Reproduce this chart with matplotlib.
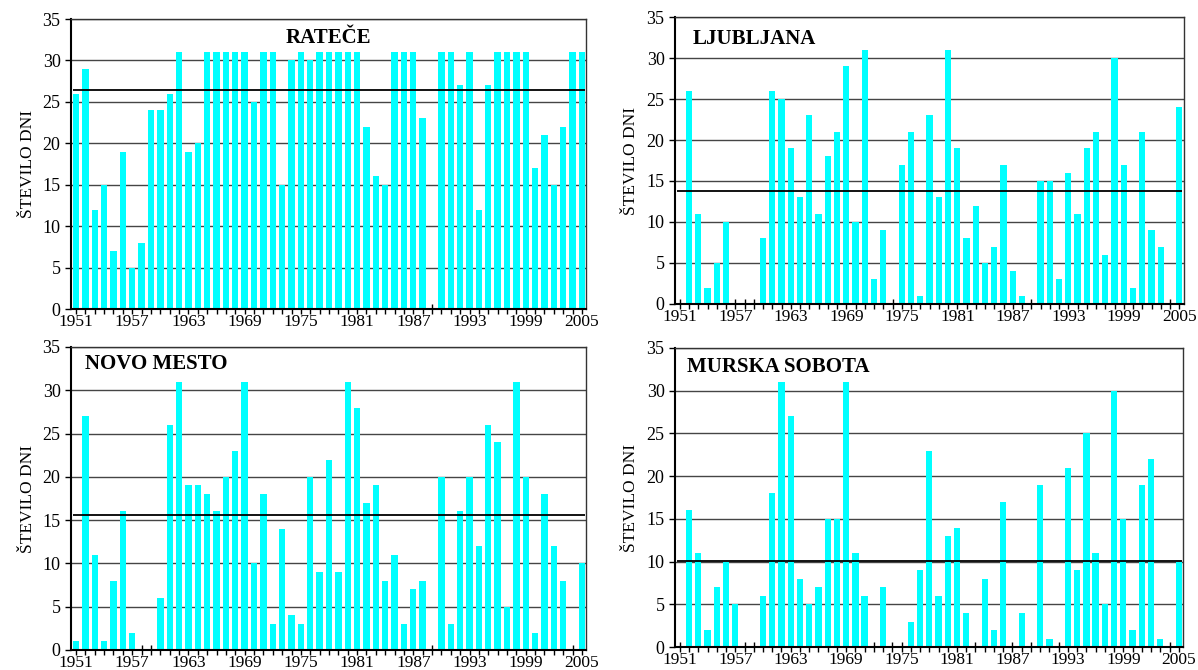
import numpy as np
import matplotlib
matplotlib.use('Agg')
import matplotlib.pyplot as plt

plt.rcParams['font.family'] = ['Liberation Serif', 'DejaVu Serif']

years = np.arange(1951, 2006)

ratece = [26, 29, 12, 15, 7, 19, 5, 8, 24, 24, 26, 31, 19, 20, 31, 31, 31, 31, 31, 25,
          31, 31, 15, 30, 31, 30, 31, 31, 31, 31, 31, 22, 16, 15, 31, 31, 31, 23, 0, 31,
          31, 27, 31, 12, 27, 31, 31, 31, 31, 17, 21, 15, 22, 31, 31]
ljubljana = [0, 26, 11, 2, 5, 10, 0, 0, 0, 8, 26, 25, 19, 13, 23, 11, 18, 21, 29, 10,
             31, 3, 9, 0, 17, 21, 1, 23, 13, 31, 19, 8, 12, 5, 7, 17, 4, 1, 0, 15,
             15, 3, 16, 11, 19, 21, 6, 30, 17, 2, 21, 9, 7, 0, 24]
novo_mesto = [1, 27, 11, 1, 8, 16, 2, 0, 0, 6, 26, 31, 19, 19, 18, 16, 20, 23, 31, 10,
              18, 3, 14, 4, 3, 20, 9, 22, 9, 31, 28, 17, 19, 8, 11, 3, 7, 8, 0, 20,
              3, 16, 20, 12, 26, 24, 5, 31, 20, 2, 18, 12, 8, 0, 10]
murska_sobota = [0, 16, 11, 2, 7, 10, 5, 0, 0, 6, 18, 31, 27, 8, 5, 7, 15, 15, 31, 11,
                 6, 0, 7, 0, 0, 3, 9, 23, 6, 13, 14, 4, 0, 8, 2, 17, 0, 4, 0, 19,
                 1, 0, 21, 9, 25, 11, 5, 30, 15, 2, 19, 22, 1, 0, 10]

stations = ['RATEČE', 'LJUBLJANA', 'NOVO MESTO', 'MURSKA SOBOTA']
means = [26.4, 13.8, 15.6, 10.1]
series = [ratece, ljubljana, novo_mesto, murska_sobota]

# axes boxes in figure fractions: left, bottom, width, height
boxes = [[0.0593, 0.5388, 0.4300, 0.4328],
         [0.5634, 0.5463, 0.4245, 0.4283],
         [0.0593, 0.0300, 0.4300, 0.4521],
         [0.5634, 0.0340, 0.4240, 0.4466]]
title_pos = [(0.5, 0.935, 'center'), (0.035, 0.923, 'left'),
             (0.027, 0.945, 'left'), (0.023, 0.935, 'left')]

fig = plt.figure(figsize=(11.98, 6.70), dpi=100)

for i in range(4):
    ax = fig.add_axes(boxes[i])
    ax.set_axisbelow(True)
    ax.bar(years, series[i], width=0.68, color='#00FFFF', zorder=2)
    ax.hlines(means[i], years[0] - 0.3, years[-1] + 0.3, color='black', lw=1.3, zorder=3)
    ax.set_xlim(1950.47, 2005.45)
    ax.set_ylim(0, 35)
    ax.set_yticks(np.arange(0, 36, 5))
    ax.grid(axis='y', color='#454545', lw=1)
    ax.set_xticks(years[::6])
    ax.set_xticks(years, minor=True)
    ax.tick_params(axis='x', which='both', direction='inout', length=7, width=1, labelsize=12.5, pad=0)
    ax.tick_params(axis='y', direction='out', length=4, width=1, labelsize=13)
    for s in ax.spines.values():
        s.set_color('#333333')
        s.set_linewidth(1)
    ax.spines['left'].set_linewidth(1.5)
    ax.spines['bottom'].set_linewidth(1.5)
    ax.spines['left'].set_color('black')
    ax.spines['bottom'].set_color('black')
    ax.set_ylabel('ŠTEVILO DNI', fontsize=12.5, labelpad=5)
    tx, ty, ha = title_pos[i]
    ax.text(tx, ty, stations[i], transform=ax.transAxes, ha=ha, va='center',
            fontsize=15, fontweight='bold')

fig.savefig('out.png', dpi=100)
